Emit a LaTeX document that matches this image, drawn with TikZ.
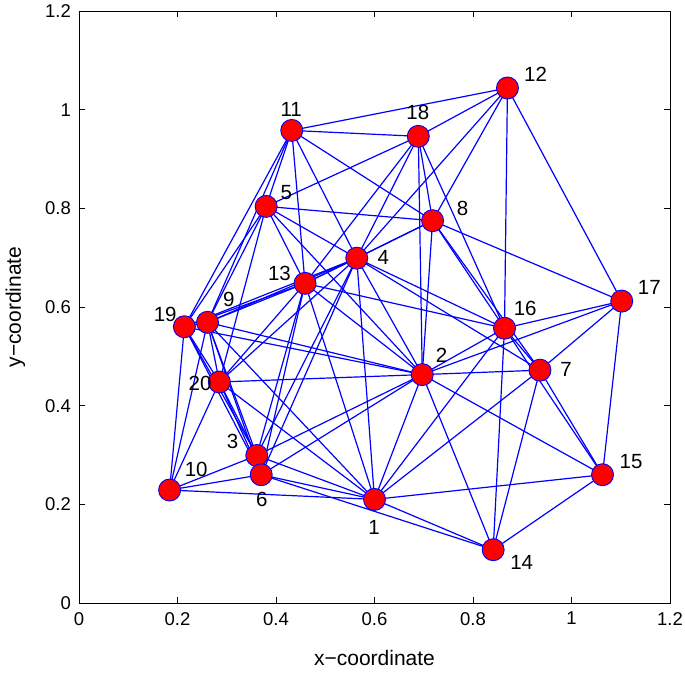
\documentclass[tikz,border=0pt]{standalone}
\usepackage{fontspec}
\setmainfont{Liberation Sans}
\usetikzlibrary{backgrounds}
\definecolor{netBlue}{HTML}{0000FF}
\definecolor{netRed}{HTML}{FF0000}
\tikzset{
  vertex/.style={circle, draw=netBlue, fill=netRed, line width=0.9pt,
              minimum size=22pt, inner sep=0pt},
  link/.style={draw=netBlue, line width=1.2pt},
  num/.style={font=\fontsize{20.5}{20.5}\selectfont, inner sep=0pt},
  ticklbl/.style={font=\fontsize{18.5}{18.5}\selectfont, inner sep=0pt},
  axlbl/.style={font=\fontsize{21}{21}\selectfont, inner sep=0pt},
  frame/.style={draw=black, line width=0.9pt},
}

\begin{document}
\begin{tikzpicture}[x=492.5pt, y=493.3pt]
  \useasboundingbox (-0.1604,-0.1399) rectangle (1.2305,1.2224);
  % axes box, ticks and tick labels
  \draw[frame] (0,0) rectangle (1.2,1.2);
  \foreach \t/\s [count=\i] in {0/0,0.2/0.2,0.4/0.4,0.6/0.6,0.8/0.8,1/1,1.2/1.2}{
    \draw[frame] (\t,0) -- (\t,0.012) (\t,1.2) -- (\t,1.188);
    \draw[frame] (0,\t) -- (0.012,\t) (1.2,\t) -- (1.188,\t);
    \node[ticklbl,anchor=north] (xt\i) at ([yshift=-9pt]\t,0) {\s};
    \node[ticklbl,anchor=east] (yt\i) at ([xshift=-8pt]0,\t) {\s};
  }
  \node[axlbl] (xlab) at (0.6,-0.111) {x−coordinate};
  \node[axlbl,rotate=90] (ylab) at (-0.129,0.6) {y−coordinate};
  % vertices
  \node[vertex] (v1) at (0.600,0.210) {};
  \node[vertex] (v2) at (0.697,0.463) {};
  \node[vertex] (v3) at (0.361,0.299) {};
  \node[vertex] (v4) at (0.564,0.699) {};
  \node[vertex] (v5) at (0.380,0.804) {};
  \node[vertex] (v6) at (0.370,0.260) {};
  \node[vertex] (v7) at (0.936,0.472) {};
  \node[vertex] (v8) at (0.718,0.775) {};
  \node[vertex] (v9) at (0.261,0.569) {};
  \node[vertex] (v10) at (0.184,0.229) {};
  \node[vertex] (v11) at (0.432,0.958) {};
  \node[vertex] (v12) at (0.870,1.044) {};
  \node[vertex] (v13) at (0.459,0.648) {};
  \node[vertex] (v14) at (0.841,0.108) {};
  \node[vertex] (v15) at (1.063,0.260) {};
  \node[vertex] (v16) at (0.864,0.557) {};
  \node[vertex] (v17) at (1.102,0.612) {};
  \node[vertex] (v18) at (0.689,0.946) {};
  \node[vertex] (v19) at (0.214,0.560) {};
  \node[vertex] (v20) at (0.285,0.448) {};
  % vertex numbers
  \node[num] (l1) at (0.599,0.154) {1};
  \node[num] (l2) at (0.736,0.503) {2};
  \node[num] (l3) at (0.312,0.328) {3};
  \node[num] (l4) at (0.618,0.700) {4};
  \node[num] (l5) at (0.421,0.832) {5};
  \node[num] (l6) at (0.371,0.209) {6};
  \node[num] (l7) at (0.989,0.473) {7};
  \node[num] (l8) at (0.779,0.799) {8};
  \node[num] (l9) at (0.304,0.615) {9};
  \node[num] (l10) at (0.238,0.271) {10};
  \node[num] (l11) at (0.431,1.000) {11};
  \node[num] (l12) at (0.927,1.072) {12};
  \node[num] (l13) at (0.407,0.669) {13};
  \node[num] (l14) at (0.899,0.083) {14};
  \node[num] (l15) at (1.121,0.287) {15};
  \node[num] (l16) at (0.906,0.598) {16};
  \node[num] (l17) at (1.158,0.639) {17};
  \node[num] (l18) at (0.688,0.994) {18};
  \node[num] (l19) at (0.175,0.585) {19};
  \node[num] (l20) at (0.246,0.446) {20};
  % links
  \begin{scope}[on background layer]
    \foreach \a/\b in {1/2,1/3,1/4,1/6,1/7,1/9,1/10,1/13,1/14,1/15,1/16,1/20,
        2/3,2/4,2/5,2/6,2/7,2/8,2/9,2/13,2/14,2/15,2/16,2/17,2/18,2/19,2/20,
        3/4,3/6,3/9,3/10,3/13,3/19,3/20,
        4/5,4/6,4/7,4/8,4/9,4/11,4/12,4/13,4/16,4/18,4/19,4/20,
        5/8,5/9,5/11,5/13,5/18,5/19,5/20,
        6/9,6/10,6/13,6/14,6/19,6/20,
        7/8,7/14,7/15,7/16,7/17,
        8/11,8/12,8/13,8/16,8/17,8/18,
        9/10,9/11,9/13,9/19,9/20,
        10/19,10/20,
        11/12,11/13,11/18,11/19,
        12/16,12/17,12/18,
        13/16,13/18,13/19,13/20,
        14/15,14/16,15/16,15/17,16/17,16/18,19/20}
      \draw[link] (v\a.center) -- (v\b.center);
  \end{scope}
\end{tikzpicture}
\end{document}
